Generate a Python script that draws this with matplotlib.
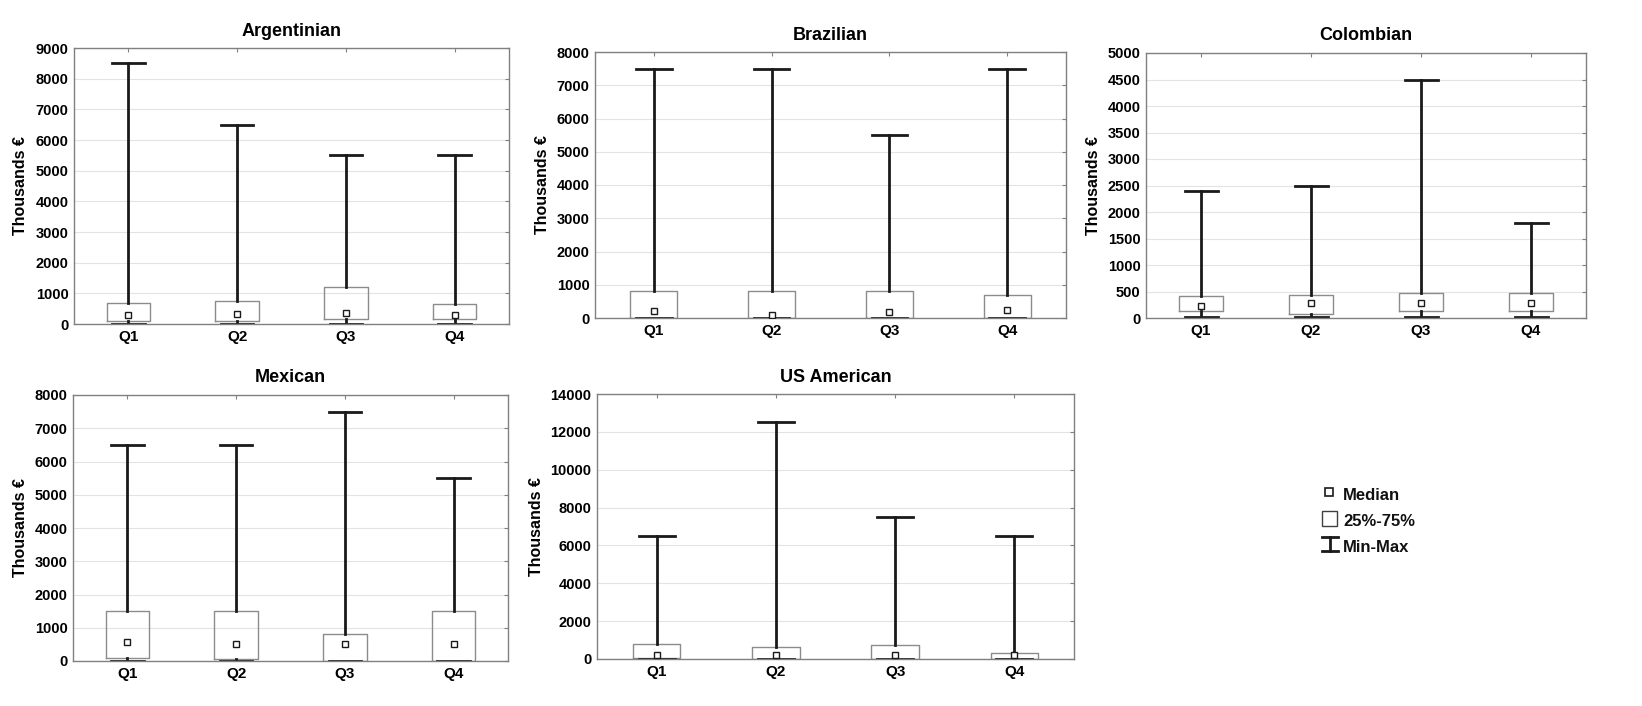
import matplotlib.pyplot as plt
from matplotlib.lines import Line2D
from matplotlib.patches import Rectangle

plt.rcParams["font.family"] = ["Liberation Sans", "DejaVu Sans"]
plt.rcParams["font.weight"] = "bold"

quarters = ["Q1", "Q2", "Q3", "Q4"]

# values, thousands of euro
arg_min = [10, 10, 10, 10]
arg_q25 = [100, 100, 150, 150]
arg_med = [300, 330, 350, 280]
arg_q75 = [700, 750, 1200, 650]
arg_max = [8500, 6500, 5500, 5500]

bra_min = [0, 0, 0, 0]
bra_q25 = [0, 0, 0, 0]
bra_med = [200, 100, 180, 250]
bra_q75 = [800, 800, 800, 700]
bra_max = [7500, 7500, 5500, 7500]

col_min = [10, 10, 10, 10]
col_q25 = [130, 80, 130, 140]
col_med = [230, 280, 280, 280]
col_q75 = [420, 440, 480, 480]
col_max = [2400, 2500, 4500, 1800]

mex_min = [10, 10, 0, 0]
mex_q25 = [80, 70, 0, 0]
mex_med = [580, 500, 500, 500]
mex_q75 = [1500, 1500, 800, 1500]
mex_max = [6500, 6500, 7500, 5500]

us_min = [20, 0, 0, 0]
us_q25 = [30, 0, 0, 0]
us_med = [200, 200, 200, 200]
us_q75 = [800, 650, 750, 300]
us_max = [6500, 12500, 7500, 6500]

W, H = 1642, 706
fig = plt.figure(figsize=(W / 100, H / 100), dpi=100)


def px_axes(x0, y0, x1, y1):
    return fig.add_axes([x0 / W, 1 - y1 / H, (x1 - x0) / W, (y1 - y0) / H])


def panel(ax, title, lo, q25, med, q75, hi, ymax, step):
    stats = []
    for i in range(4):
        stats.append(dict(whislo=lo[i], q1=q25[i], med=med[i], q3=q75[i],
                          whishi=hi[i], label=quarters[i]))
    ax.bxp(stats, positions=[1, 2, 3, 4], widths=0.4, capwidths=0.3,
           showfliers=False,
           boxprops=dict(color="#8c8c8c", lw=1.0),
           whiskerprops=dict(color="#1a1a1a", lw=2.0),
           capprops=dict(color="#1a1a1a", lw=2.0),
           medianprops=dict(lw=0))
    ax.plot([1, 2, 3, 4], med, ls="none", marker="s", ms=5,
            mfc="white", mec="#1a1a1a", mew=1.0, zorder=5)
    ax.set_xlim(0.5, 4.5)
    ax.set_ylim(0, ymax)
    ax.set_yticks(range(0, ymax + 1, step))
    ax.set_xticks([1, 2, 3, 4], quarters)
    ax.grid(axis="y", color="#e3e3e3", lw=0.8)
    ax.set_axisbelow(True)
    for s in ax.spines.values():
        s.set_color("#808080")
        s.set_linewidth(1.0)
    ax.tick_params(axis="both", labelsize=10.5, pad=4, length=0)
    ax.tick_params(axis="x", labelsize=11)
    ax.tick_params(top=True, right=True, direction="in", length=3,
                   color="#808080", which="major")
    ax.tick_params(left=False, bottom=False)
    ax.set_ylabel("Thousands €", fontsize=11.5, fontweight="bold", labelpad=5)
    ax.set_title(title, fontsize=13, fontweight="bold", pad=9)


ax1 = px_axes(74, 48, 509, 324)
panel(ax1, "Argentinian", arg_min, arg_q25, arg_med, arg_q75, arg_max, 9000, 1000)

ax2 = px_axes(595, 52, 1066, 318)
panel(ax2, "Brazilian", bra_min, bra_q25, bra_med, bra_q75, bra_max, 8000, 1000)

ax3 = px_axes(1146, 53, 1586, 318)
panel(ax3, "Colombian", col_min, col_q25, col_med, col_q75, col_max, 5000, 500)

ax4 = px_axes(73, 395, 508, 661)
panel(ax4, "Mexican", mex_min, mex_q25, mex_med, mex_q75, mex_max, 8000, 1000)

ax5 = px_axes(597, 394, 1074, 659)
panel(ax5, "US American", us_min, us_q25, us_med, us_q75, us_max, 14000, 2000)

# legend drawn in figure pixel space
leg = fig.add_axes([0, 0, 1, 1], zorder=10)
leg.set_xlim(0, W)
leg.set_ylim(H, 0)
leg.axis("off")
leg.plot([1329], [492], ls="none", marker="s", ms=5.5, mfc="white",
         mec="#1a1a1a", mew=1.2)
leg.add_patch(Rectangle((1322, 511), 15, 15, fill=False, ec="#404040", lw=1.0))
leg.add_line(Line2D([1330, 1330], [537, 551], color="#1a1a1a", lw=2))
leg.add_line(Line2D([1322, 1338], [537, 537], color="#1a1a1a", lw=2))
leg.add_line(Line2D([1322, 1338], [551, 551], color="#1a1a1a", lw=2))
for label, y in [("Median", 496), ("25%-75%", 522), ("Min-Max", 548)]:
    leg.text(1343, y, label, fontsize=12, fontweight="bold", va="center",
             ha="left", color="#111111")

fig.savefig("out.png", dpi=100, facecolor="white")
